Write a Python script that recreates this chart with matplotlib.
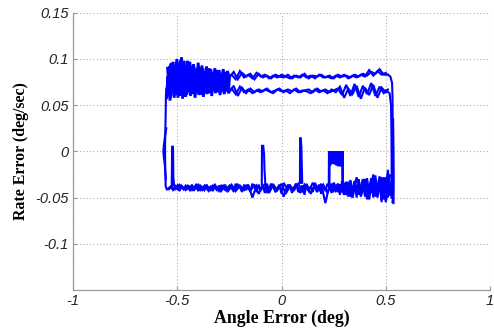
import matplotlib
matplotlib.use("Agg")
import matplotlib.pyplot as plt

# ---------------- data ----------------
# top band, noisy left part, several passes
top_a_x = [-0.55,-0.54,-0.53,-0.52,-0.51,-0.50,-0.49,-0.48,-0.47,-0.46,-0.45,-0.44,-0.43,-0.42,-0.41,-0.40,
           -0.39,-0.38,-0.37,-0.36,-0.35,-0.34,-0.33,-0.32,-0.31,-0.30,-0.29,-0.28,-0.27,-0.26,-0.25]
top_a_y = [0.066,0.090,0.060,0.097,0.062,0.094,0.066,0.102,0.061,0.093,0.069,0.097,0.063,0.091,0.071,0.096,
           0.065,0.090,0.073,0.092,0.067,0.089,0.074,0.090,0.069,0.088,0.076,0.089,0.073,0.087,0.080]
top_b_x = [-0.545,-0.535,-0.525,-0.515,-0.505,-0.495,-0.485,-0.475,-0.465,-0.455,-0.445,-0.435,-0.425,-0.415,-0.405,
           -0.395,-0.385,-0.375,-0.365,-0.355,-0.345,-0.335,-0.325,-0.315,-0.305,-0.295,-0.285,-0.275,-0.265,-0.255]
top_b_y = [0.075,0.055,0.086,0.058,0.091,0.060,0.099,0.057,0.088,0.061,0.094,0.062,0.086,0.058,0.090,
           0.062,0.085,0.059,0.087,0.063,0.083,0.060,0.081,0.064,0.079,0.061,0.077,0.062,0.075,0.064]
top_c_x = [-0.552,-0.542,-0.532,-0.522,-0.512,-0.502,-0.492,-0.482,-0.472,-0.462,-0.452,-0.442,-0.432,-0.422,-0.412,
           -0.402,-0.392,-0.382,-0.372,-0.362,-0.352,-0.342,-0.332,-0.322,-0.312,-0.302,-0.292,-0.282,-0.272,-0.262]
top_c_y = [0.058,0.079,0.095,0.064,0.083,0.100,0.070,0.088,0.059,0.082,0.092,0.066,0.080,0.094,0.064,
           0.084,0.070,0.093,0.062,0.081,0.089,0.066,0.085,0.071,0.088,0.065,0.084,0.069,0.086,0.066]
top_d_x = [-0.547,-0.537,-0.527,-0.517,-0.507,-0.497,-0.487,-0.477,-0.467,-0.457,-0.447,-0.437,-0.427,-0.417,-0.407,
           -0.397,-0.387,-0.377,-0.367,-0.357,-0.347,-0.337,-0.327,-0.317,-0.307,-0.297,-0.287,-0.277,-0.267,-0.257]
top_d_y = [0.090,0.062,0.096,0.068,0.085,0.058,0.092,0.071,0.098,0.064,0.087,0.060,0.093,0.070,0.084,
           0.061,0.091,0.068,0.086,0.062,0.090,0.070,0.084,0.063,0.086,0.072,0.081,0.064,0.083,0.070]
top_e_x = [-0.550,-0.546,-0.542,-0.538,-0.534,-0.530,-0.526,-0.522,-0.518,-0.514,-0.510,-0.506,-0.502,-0.498,-0.494,
           -0.490,-0.486,-0.482,-0.478,-0.474,-0.470,-0.466,-0.462,-0.458,-0.454,-0.450,-0.446,-0.442,-0.438,-0.434,
           -0.430,-0.426,-0.422,-0.418,-0.414,-0.410,-0.406,-0.402,-0.398,-0.394,-0.390,-0.386,-0.382,-0.378,-0.374,
           -0.370,-0.366,-0.362,-0.358,-0.354,-0.350,-0.346,-0.342,-0.338,-0.334,-0.330,-0.326,-0.322,-0.318,-0.314,
           -0.310,-0.306,-0.302,-0.298,-0.294,-0.290,-0.286,-0.282,-0.278,-0.274,-0.270,-0.266,-0.262,-0.258,-0.254,-0.250]
top_e_y = [0.062,0.081,0.070,0.092,0.058,0.086,0.074,0.095,0.065,0.079,0.088,0.061,0.097,0.072,0.084,0.060,0.090,0.077,0.066,0.093,
           0.070,0.083,0.059,0.089,0.075,0.098,0.064,0.080,0.091,0.068,0.086,0.062,0.094,0.073,0.081,0.063,0.088,0.070,0.092,0.066,
           0.084,0.076,0.061,0.090,0.071,0.086,0.064,0.082,0.089,0.068,0.079,0.063,0.087,0.074,0.085,0.066,0.080,0.088,0.069,0.083,
           0.064,0.086,0.073,0.081,0.066,0.084,0.077,0.069,0.085,0.064,0.082,0.075,0.068,0.083,0.065,0.080]

# top band, upper line (two passes)
up1_x = [-0.25,-0.23,-0.21,-0.19,-0.17,-0.15,-0.13,-0.11,-0.09,-0.07,-0.05,-0.03,-0.01,0.01,0.03,0.05,0.07,0.09,
         0.11,0.13,0.15,0.17,0.19,0.21,0.23,0.25,0.27,0.29,0.31,0.33,0.35,0.37,0.39,0.41,0.43,0.45,0.47,0.49,0.51]
up1_y = [0.080,0.086,0.078,0.085,0.081,0.084,0.078,0.084,0.080,0.082,0.079,0.083,0.081,0.080,0.083,0.079,0.082,0.080,
         0.084,0.079,0.082,0.081,0.083,0.080,0.082,0.079,0.083,0.081,0.082,0.080,0.083,0.081,0.084,0.082,0.086,0.084,0.089,0.083,0.083]
up2_x = [-0.24,-0.22,-0.20,-0.18,-0.16,-0.14,-0.12,-0.10,-0.08,-0.06,-0.04,-0.02,0.00,0.02,0.04,0.06,0.08,0.10,
         0.12,0.14,0.16,0.18,0.20,0.22,0.24,0.26,0.28,0.30,0.32,0.34,0.36,0.38,0.40,0.42,0.44,0.46,0.48,0.50]
up2_y = [0.083,0.078,0.087,0.080,0.083,0.079,0.085,0.081,0.083,0.079,0.082,0.080,0.083,0.081,0.079,0.082,0.080,0.083,
         0.080,0.082,0.079,0.083,0.080,0.081,0.079,0.082,0.080,0.083,0.079,0.082,0.080,0.083,0.081,0.088,0.082,0.087,0.083,0.085]

# top band, lower line (two passes)
lo1_x = up1_x
lo1_y = [0.064,0.071,0.060,0.069,0.063,0.068,0.064,0.067,0.065,0.068,0.064,0.066,0.068,0.064,0.067,0.065,0.068,0.064,
         0.066,0.067,0.064,0.068,0.065,0.067,0.064,0.066,0.068,0.061,0.072,0.060,0.073,0.059,0.071,0.062,0.074,0.060,0.070,0.063,0.067]
lo2_x = up2_x
lo2_y = [0.068,0.062,0.070,0.064,0.067,0.063,0.066,0.064,0.067,0.065,0.063,0.067,0.065,0.066,0.063,0.067,0.064,0.066,
         0.065,0.063,0.067,0.064,0.066,0.063,0.067,0.064,0.070,0.058,0.068,0.062,0.071,0.057,0.069,0.061,0.072,0.058,0.069,0.064]

# right edge (three descents)
re1_x = [0.51,0.522,0.530,0.532,0.533,0.533,0.534,0.534,0.532]
re1_y = [0.083,0.081,0.074,0.060,0.030,0.000,-0.030,-0.050,-0.055]
re2_x = [0.50,0.518,0.525,0.527,0.528,0.528,0.527]
re2_y = [0.066,0.063,0.050,0.020,-0.010,-0.040,-0.050]
re3_x = [0.535,0.537,0.538,0.537]
re3_y = [0.035,0.000,-0.030,-0.056]

# bottom band, right to left (four passes)
bo1_x = [0.53,0.51,0.49,0.47,0.45,0.43,0.41,0.39,0.37,0.35,0.33,0.31,0.29,0.27,0.25,0.23,0.21,0.19,0.17,0.15,
         0.13,0.11,0.09,0.07,0.05,0.03,0.01,-0.01,-0.03,-0.05,-0.07,-0.09,-0.11,-0.13,-0.15,-0.17,-0.19,-0.21,
         -0.23,-0.25,-0.27,-0.29,-0.31,-0.33,-0.35,-0.37,-0.39,-0.41,-0.43,-0.45,-0.47,-0.49,-0.51,-0.53,-0.55]
bo1_y = [-0.048,-0.024,-0.052,-0.027,-0.049,-0.029,-0.051,-0.030,-0.047,-0.032,-0.049,-0.033,
         -0.044,-0.035,-0.043,-0.036,-0.056,-0.035,-0.044,-0.034,-0.043,-0.036,-0.045,-0.035,-0.043,-0.036,-0.049,-0.036,-0.043,-0.035,
         -0.044,-0.037,-0.046,-0.036,-0.043,-0.037,-0.042,-0.036,-0.043,-0.037,-0.042,-0.037,-0.042,-0.037,-0.043,
         -0.037,-0.042,-0.036,-0.042,-0.037,-0.041,-0.036,-0.041,-0.038,-0.041]
bo2_x = [0.52,0.50,0.48,0.46,0.44,0.42,0.40,0.38,0.36,0.34,0.32,0.30,0.28,0.26,0.24,0.22,0.20,0.18,0.16,0.14,
         0.12,0.10,0.08,0.06,0.04,0.02,0.00,-0.02,-0.04,-0.06,-0.08,-0.10,-0.12,-0.14,-0.16,-0.18,-0.20,-0.22,
         -0.24,-0.26,-0.28,-0.30,-0.32,-0.34,-0.36,-0.38,-0.40,-0.42,-0.44,-0.46,-0.48,-0.50,-0.52,-0.54]
bo2_y = [-0.026,-0.055,-0.028,-0.050,-0.025,-0.052,-0.030,-0.047,-0.028,-0.050,-0.033,-0.047,
         -0.036,-0.043,-0.035,-0.045,-0.036,-0.042,-0.035,-0.046,-0.036,-0.043,-0.035,-0.042,-0.037,-0.046,-0.035,-0.042,-0.036,-0.045,
         -0.035,-0.042,-0.037,-0.050,-0.036,-0.042,-0.037,-0.043,-0.036,-0.042,-0.037,-0.043,-0.036,-0.042,
         -0.037,-0.042,-0.036,-0.042,-0.038,-0.042,-0.037,-0.041,-0.036,-0.040]
bo3_x = [0.53,0.52,0.51,0.50,0.49,0.48,0.47,0.46,0.45,0.44,0.43,0.42,0.41,0.40,0.39,0.38,0.37,0.36,0.35,0.34,
         0.33,0.32,0.31,0.30,0.29,0.28,0.27,0.26,0.25]
bo3_y = [-0.030,-0.048,-0.020,-0.045,-0.028,-0.055,-0.031,-0.047,-0.026,-0.050,-0.032,-0.046,-0.029,-0.049,-0.033,
         -0.045,-0.030,-0.050,-0.034,-0.046,-0.031,-0.049,-0.035,-0.044,-0.032,-0.047,-0.036,-0.043,-0.035]
bo4_x = [0.52,0.51,0.50,0.49,0.48,0.47,0.46,0.45,0.44,0.43,0.42,0.41,0.40,0.39,0.38,0.37,0.36,0.35,0.34,0.33,
         0.32,0.31,0.30,0.29,0.28,0.27,0.26,0.25,0.24,0.23,0.22,0.21,0.20,0.19,0.18,0.17,0.16,0.15,0.14,0.13,
         0.12,0.11,0.10,0.09,0.08,0.07,0.06,0.05,0.04,0.03,0.02,0.01,0.00,-0.01,-0.02,-0.03,-0.04,-0.05,-0.06,-0.07,
         -0.08,-0.09,-0.10,-0.11,-0.12,-0.13,-0.14,-0.15,-0.16,-0.17,-0.18,-0.19,-0.20,-0.21,-0.22,-0.23,-0.24,-0.25,-0.26,-0.27,
         -0.28,-0.29,-0.30,-0.31,-0.32,-0.33,-0.34,-0.35,-0.36,-0.37,-0.38,-0.39,-0.40,-0.41,-0.42,-0.43,-0.44,-0.45,-0.46,-0.47,
         -0.48,-0.49,-0.50,-0.51,-0.52,-0.53,-0.54]
bo4_y = [-0.035,-0.050,-0.028,-0.044,-0.053,-0.031,-0.040,-0.048,-0.027,-0.045,-0.036,-0.052,-0.030,-0.042,-0.049,
         -0.033,-0.046,-0.038,-0.050,-0.032,-0.044,-0.047,-0.034,
         -0.041,-0.036,-0.044,-0.038,-0.034,-0.045,-0.039,-0.035,-0.043,-0.037,
         -0.046,-0.036,-0.041,-0.034,-0.044,-0.038,-0.042,-0.035,-0.047,-0.037,
         -0.040,-0.044,-0.035,-0.039,-0.045,-0.036,-0.042,-0.038,-0.034,-0.046,
         -0.037,-0.041,-0.044,-0.036,-0.039,-0.043,-0.035,-0.045,-0.038,-0.041,
         -0.036,-0.044,-0.039,-0.035,-0.043,-0.037,-0.042,-0.036,-0.044,-0.038,
         -0.040,-0.035,-0.043,-0.037,-0.041,-0.044,-0.036,-0.040,-0.043,-0.037,
         -0.041,-0.037,-0.043,-0.038,-0.040,-0.036,-0.042,-0.039,-0.037,-0.043,-0.038,-0.041,
         -0.036,-0.042,-0.039,-0.037,-0.041,-0.038,-0.043,-0.037,-0.040,-0.042,-0.038,-0.041]

# left edge
le1_x = [-0.55,-0.556,-0.558,-0.559,-0.558,-0.556,-0.555,-0.552,-0.545]
le1_y = [-0.041,-0.038,-0.020,0.000,0.020,0.040,0.060,0.068,0.070]
le2_x = [-0.553,-0.560,-0.565,-0.567,-0.565,-0.560,-0.555]
le2_y = [0.025,0.015,0.006,0.000,-0.006,-0.015,-0.030]

# isolated spikes and the small oscillation block
sp1_x = [-0.527,-0.525,-0.521,-0.519,-0.516,-0.505]
sp1_y = [-0.040,0.005,0.005,-0.028,-0.036,-0.038]
sp2_x = [-0.095,-0.094,-0.088,-0.084,-0.082,-0.078]
sp2_y = [-0.036,0.006,0.006,-0.003,-0.020,-0.035]
sp3_x = [0.088,0.089,0.092,0.095,0.097,0.099]
sp3_y = [-0.034,0.015,0.014,0.005,-0.015,-0.034]
sp4_x = [0.090,0.091,0.093]
sp4_y = [0.013,-0.010,-0.034]
box_x = [0.228,0.229,0.232,0.236,0.240,0.244,0.248,0.252,0.256,0.260,0.264,0.268,0.272,0.276,0.280,0.284,0.288,0.292,0.293]
box_y = [-0.035,0.000,-0.015,0.000,-0.013,0.000,-0.013,0.000,-0.014,0.000,-0.015,0.000,-0.016,0.000,-0.016,0.000,-0.016,0.000,-0.033]

dense_segments = [(top_a_x, top_a_y), (top_b_x, top_b_y), (top_c_x, top_c_y), (top_d_x, top_d_y), (top_e_x, top_e_y),
                  (box_x, box_y)]
segments = [(up1_x, up1_y), (up2_x, up2_y), (lo1_x, lo1_y), (lo2_x, lo2_y),
            (re1_x, re1_y), (re2_x, re2_y), (re3_x, re3_y),
            (bo1_x, bo1_y), (bo2_x, bo2_y), (bo3_x, bo3_y), (bo4_x, bo4_y),
            (le1_x, le1_y), (le2_x, le2_y),
            (sp1_x, sp1_y), (sp2_x, sp2_y), (sp3_x, sp3_y), (sp4_x, sp4_y)]

x_ticks = [-1, -0.5, 0, 0.5, 1]
x_tick_labels = ["-1", "-0.5", "0", "0.5", "1"]
y_ticks = [-0.1, -0.05, 0, 0.05, 0.1, 0.15]
y_tick_labels = ["-0.1", "-0.05", "0", "0.05", "0.1", "0.15"]

# ---------------- figure ----------------
fig = plt.figure(figsize=(4.94, 3.28), dpi=100)
ax = fig.add_axes([0.148, 0.116, 0.844, 0.845])

for sx, sy in dense_segments:
    ax.plot(sx, sy, color=(0, 0, 1), linewidth=2.0, solid_joinstyle="miter")
for sx, sy in segments:
    ax.plot(sx, sy, color=(0, 0, 1), linewidth=1.5, solid_joinstyle="miter")

ax.set_xlim(-1, 1)
ax.set_ylim(-0.15, 0.15)
ax.set_xticks(x_ticks)
ax.set_xticklabels(x_tick_labels)
ax.set_yticks(y_ticks)
ax.set_yticklabels(y_tick_labels)

for lab in ax.get_xticklabels() + ax.get_yticklabels():
    lab.set_fontfamily("Liberation Sans")
    lab.set_fontstyle("italic")
    lab.set_fontsize(10.5)
    lab.set_color("#222222")

ax.grid(True, linestyle=(0, (1, 2)), color="#b0b0b0", linewidth=0.8)
ax.set_axisbelow(True)
for s in ["top", "right"]:
    ax.spines[s].set_visible(False)
for s in ["left", "bottom"]:
    ax.spines[s].set_color("#9a9a9a")
    ax.spines[s].set_linewidth(0.9)
ax.tick_params(direction="in", length=3, color="#9a9a9a", pad=3)

ax.set_xlabel("Angle Error (deg)", fontfamily="Liberation Serif", fontweight="bold", fontsize=12.8, labelpad=1)
ax.set_ylabel("Rate Error (deg/sec)", fontfamily="Liberation Serif", fontweight="bold", fontsize=11.4, labelpad=5)

fig.savefig("out.png", dpi=100)
